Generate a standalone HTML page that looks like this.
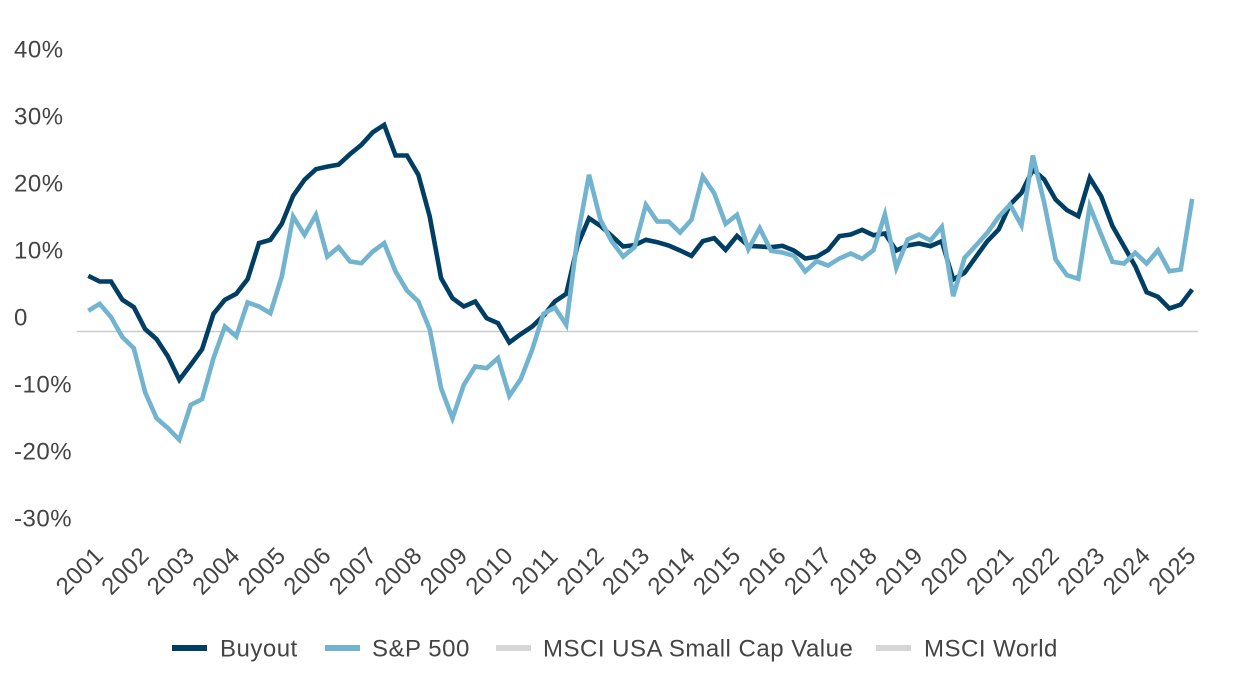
<!DOCTYPE html>
<html lang="en">
<head>
<meta charset="utf-8">
<title>Buyout vs S&amp;P 500</title>
<style>
  html, body { margin: 0; padding: 0; background: #fff; }
  body { width: 1260px; height: 692px; overflow: hidden; }
  svg { display: block; }
  text { font-family: "Liberation Sans", sans-serif; font-size: 24px; fill: #444; letter-spacing: 0.5px; }
</style>
</head>
<body>
<svg id="chart" width="1260" height="692" viewBox="0 0 1260 692" xmlns="http://www.w3.org/2000/svg">
  <g id="y-axis"></g>
  <g id="x-axis"></g>
  <line id="zero-line" stroke="#cccccc" stroke-width="1.5"></line>
  <g id="series"></g>
  <g id="legend">
    <g>
      <rect x="172" y="645" width="35" height="6" fill="#003f63"></rect>
      <text x="220" y="656.5">Buyout</text>
    </g>
    <g>
      <rect x="325" y="645" width="35" height="6" fill="#72b4d0"></rect>
      <text x="372" y="656.5">S&amp;P 500</text>
    </g>
    <g>
      <rect x="496" y="645" width="35" height="6" fill="#d6d6d6"></rect>
      <text x="543" y="656.5">MSCI USA Small Cap Value</text>
    </g>
    <g>
      <rect x="876" y="645" width="35" height="6" fill="#d6d6d6"></rect>
      <text x="924" y="656.5">MSCI World</text>
    </g>
  </g>
</svg>
<script>
const yearLabels = ["2001","2002","2003","2004","2005","2006","2007","2008","2009","2010","2011","2012","2013","2014","2015","2016","2017","2018","2019","2020","2021","2022","2023","2024","2025"];
const yTickValues = [40,30,20,10,0,-10,-20,-30];
const yTickLabels = ["40%","30%","20%","10%","0","-10%","-20%","-30%"];
const buyoutValues = [8.27,7.43,7.43,4.71,3.62,0.35,-1.14,-3.71,-7.18,-4.95,-2.63,2.63,4.71,5.6,7.78,13.13,13.62,16.0,20.16,22.54,24.12,24.5,24.8,26.35,27.74,29.6,30.7,26.15,26.15,23.3,17.1,7.92,4.95,3.71,4.46,1.98,1.24,-1.63,-0.4,0.74,2.33,4.46,5.6,12.88,16.84,15.7,14.2,12.63,12.83,13.62,13.27,12.78,12.04,11.24,13.42,13.87,12.13,14.2,12.73,12.63,12.53,12.73,12.04,10.85,11.1,12.1,14.17,14.41,15.1,14.31,14.56,12.04,12.78,13.08,12.68,13.42,7.73,8.72,11.09,13.42,15.16,18.87,20.6,24.07,22.59,19.6,18.03,17.14,22.83,20.11,15.65,12.68,9.7,5.84,5.15,3.42,4.01,6.24];
const sp500Values = [3.07,4.11,2.13,-0.84,-2.48,-9.06,-12.88,-14.36,-16.1,-10.9,-10.05,-3.96,0.74,-0.74,4.31,3.71,2.72,8.17,17.09,14.36,17.34,11.14,12.53,10.4,10.15,11.89,13.13,8.92,6.09,4.46,0.35,-8.42,-12.88,-7.92,-5.2,-5.45,-3.96,-9.56,-7.08,-2.72,2.63,3.57,0.99,14.1,23.28,16.6,13.37,11.14,12.53,18.82,16.34,16.34,14.71,16.6,23.03,20.55,16.0,17.34,12.23,15.35,11.99,11.74,11.24,8.92,10.45,9.8,10.85,11.59,10.8,12.09,17.39,9.46,13.67,14.41,13.52,15.55,5.25,10.95,12.78,14.66,17.04,18.87,15.75,26.15,19.12,10.7,8.37,7.83,18.62,14.41,10.35,10.1,11.69,10.1,12.09,8.96,9.21,19.71];
const pointsPerYear = 4;

const SVG_NS = "http://www.w3.org/2000/svg";
function xScale(index) { return 88.3 + index * 11.38; }
function yScale(value) { return 331.5 - value * 6.73; }
function yLabelBaseline(value) { return 325.5 - value * 6.7; }

const zeroLine = document.getElementById("zero-line");
zeroLine.setAttribute("x1", 77);
zeroLine.setAttribute("x2", 1198);
zeroLine.setAttribute("y1", yScale(0));
zeroLine.setAttribute("y2", yScale(0));

const yAxis = document.getElementById("y-axis");
yTickValues.forEach(function (value, i) {
  const t = document.createElementNS(SVG_NS, "text");
  t.setAttribute("x", 14);
  t.setAttribute("y", yLabelBaseline(value));
  t.textContent = yTickLabels[i];
  
  
  yAxis.appendChild(t);
});

const xAxis = document.getElementById("x-axis");
yearLabels.forEach(function (label, i) {
  const t = document.createElementNS(SVG_NS, "text");
  const cx = xScale(i * pointsPerYear) - 9;
  t.setAttribute("transform", "translate(" + cx + ",570.5) rotate(-45)");
  t.setAttribute("text-anchor", "middle");
  t.setAttribute("y", 8.5);
  t.textContent = label;
  
  
  xAxis.appendChild(t);
});

function drawLine(values, color, name) {
  const line = document.createElementNS(SVG_NS, "polyline");
  line.setAttribute("points", values.map(function (v, i) {
    return xScale(i).toFixed(2) + "," + yScale(v).toFixed(2);
  }).join(" "));
  line.setAttribute("fill", "none");
  line.setAttribute("stroke", color);
  line.setAttribute("stroke-width", 4.6);
  line.setAttribute("stroke-linejoin", "miter");
  line.setAttribute("stroke-miterlimit", "4");
  
  
  document.getElementById("series").appendChild(line);
}
drawLine(buyoutValues, "#003f63", "buyout-line");
drawLine(sp500Values, "#72b4d0", "sp500-line");
</script>
</body>
</html>
